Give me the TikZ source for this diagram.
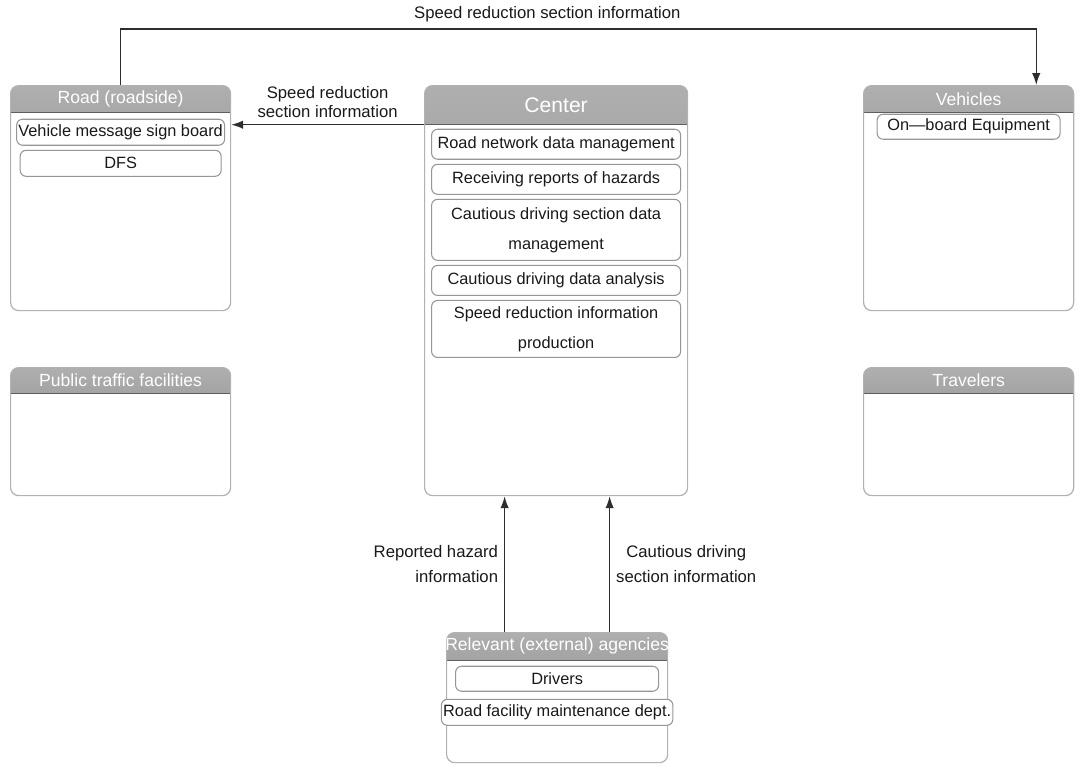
\documentclass[tikz,border=0pt]{standalone}
\usepackage{fontspec}
\setmainfont{Liberation Sans}
\usepackage{tikz}
\usetikzlibrary{arrows.meta,positioning}
\definecolor{panelborder}{RGB}{178,178,178}
\definecolor{itemborder}{RGB}{150,150,150}
\definecolor{headtop}{RGB}{175,175,175}
\definecolor{headbottom}{RGB}{118,118,118}
\definecolor{arrowgray}{RGB}{45,45,45}
\definecolor{textgray}{RGB}{25,25,25}
\tikzset{
  panelbox/.style={
    draw=panelborder,
    line width=0.7pt,
    rounded corners=1.6mm,
    fill=white,
    anchor=north west,
    inner sep=0pt,
    path picture={
      \shade[sharp corners, top color=headtop, bottom color=headbottom]
        (path picture bounding box.north west) rectangle
        ([yshift=-#1]path picture bounding box.north east);
      \draw[sharp corners, headbottom!80!black, line width=0.5pt]
        ([yshift=-#1]path picture bounding box.north west) --
        ([yshift=-#1]path picture bounding box.north east);
    }
  },
  headtext/.style={
    text=white,
    font=\fontsize{10}{12}\selectfont,
    minimum height=#1,
    inner sep=0pt
  },
  itembox/.style={
    draw=itemborder,
    line width=0.6pt,
    rounded corners=1.2mm,
    fill=white,
    align=center,
    inner sep=1pt,
    text=textgray,
    font=\fontsize{9.3}{17}\selectfont
  },
  flowarrow/.style={-{Latex[length=2.4mm,width=1.7mm]}, line width=0.8pt, draw=arrowgray},
  flowlabel/.style={font=\fontsize{9.5}{14}\selectfont, text=textgray, align=center}
}

\begin{document}
\begin{tikzpicture}[x=0.2mm, y=-0.2mm, node distance=0.8mm]
    \useasboundingbox (0,0) rectangle (1083,763);

    % panels
    \node[panelbox=5.4mm, minimum width=44mm, minimum height=45mm] (road) at (10,85) {};
    \node[panelbox=7.8mm, minimum width=52.6mm, minimum height=82mm] (center) at (424,85) {};
    \node[panelbox=5.4mm, minimum width=42mm, minimum height=45mm] (vehicles) at (863,85) {};
    \node[panelbox=5.2mm, minimum width=44mm, minimum height=25.6mm] (public) at (10,367) {};
    \node[panelbox=5.2mm, minimum width=42mm, minimum height=25.6mm] (travelers) at (863,367) {};
    \node[panelbox=5.6mm, minimum width=44.2mm, minimum height=26mm] (agencies) at (446,632) {};

    % panel titles
    \node[headtext=5.4mm, below=0pt of road.north] (roadhead) {Road (roadside)};
    \node[headtext=7.8mm, font=\fontsize{12}{14}\selectfont, below=0pt of center.north] (centerhead) {Center};
    \node[headtext=5.4mm, below=0pt of vehicles.north] (vehicleshead) {Vehicles};
    \node[headtext=5.2mm, below=0pt of public.north] (publichead) {Public traffic facilities};
    \node[headtext=5.2mm, below=0pt of travelers.north] (travelershead) {Travelers};
    \node[headtext=5.6mm, below=0pt of agencies.north] (agencieshead) {Relevant (external) agencies};

    % road side
    \node[itembox, minimum width=40.2mm, minimum height=5.2mm, below=1.2mm of roadhead] (signboard) {Vehicle message sign board};
    \node[itembox, minimum width=40.2mm, minimum height=5.2mm, below=of signboard] (dfs) {DFS};

    % center functions
    \node[itembox, minimum width=49.8mm, minimum height=6mm, below=of centerhead] (roadnet) {Road network data management};
    \node[itembox, minimum width=49.8mm, minimum height=6mm, below=of roadnet] (hazardrep) {Receiving reports of hazards};
    \node[itembox, minimum width=49.8mm, minimum height=12.2mm, below=of hazardrep] (cautiousdata) {Cautious driving section data\\management};
    \node[itembox, minimum width=49.8mm, minimum height=6mm, below=of cautiousdata] (cautiousana) {Cautious driving data analysis};
    \node[itembox, minimum width=49.8mm, minimum height=11.4mm, below=of cautiousana] (speedprod) {Speed reduction information\\production};

    % vehicles
    \node[itembox, minimum width=36.6mm, minimum height=5mm, below=0.2mm of vehicleshead] (onboard) {On---board Equipment};

    % agencies
    \node[itembox, minimum width=40.6mm, minimum height=5mm, below=1mm of agencieshead] (drivers) {Drivers};
    \node[itembox, minimum width=40.6mm, minimum height=5.2mm, below=1.4mm of drivers] (maintenance) {Road facility maintenance dept.};

    % information flows
    \coordinate (vehiclesin) at ([xshift=-7.6mm]vehicles.north east);
    \coordinate (hazardout) at ([xshift=-10.5mm]agencies.north);
    \coordinate (cautiousout) at ([xshift=10.5mm]agencies.north);

    \draw[flowarrow] (road.north) -- ++(0,-56) -| (vehiclesin)
      node[flowlabel, pos=0.233, above] {Speed reduction section information};
    \draw[flowarrow] (centerhead.south -| center.west) -- (centerhead.south -| road.east)
      node[flowlabel, font=\fontsize{9.5}{11}\selectfont, midway, above] {Speed reduction\\section information};
    \draw[flowarrow] (hazardout) -- (hazardout |- center.south)
      node[flowlabel, midway, left, align=right] {Reported hazard\\information};
    \draw[flowarrow] (cautiousout) -- (cautiousout |- center.south)
      node[flowlabel, midway, right] {Cautious driving\\section information};
\end{tikzpicture}
\end{document}
